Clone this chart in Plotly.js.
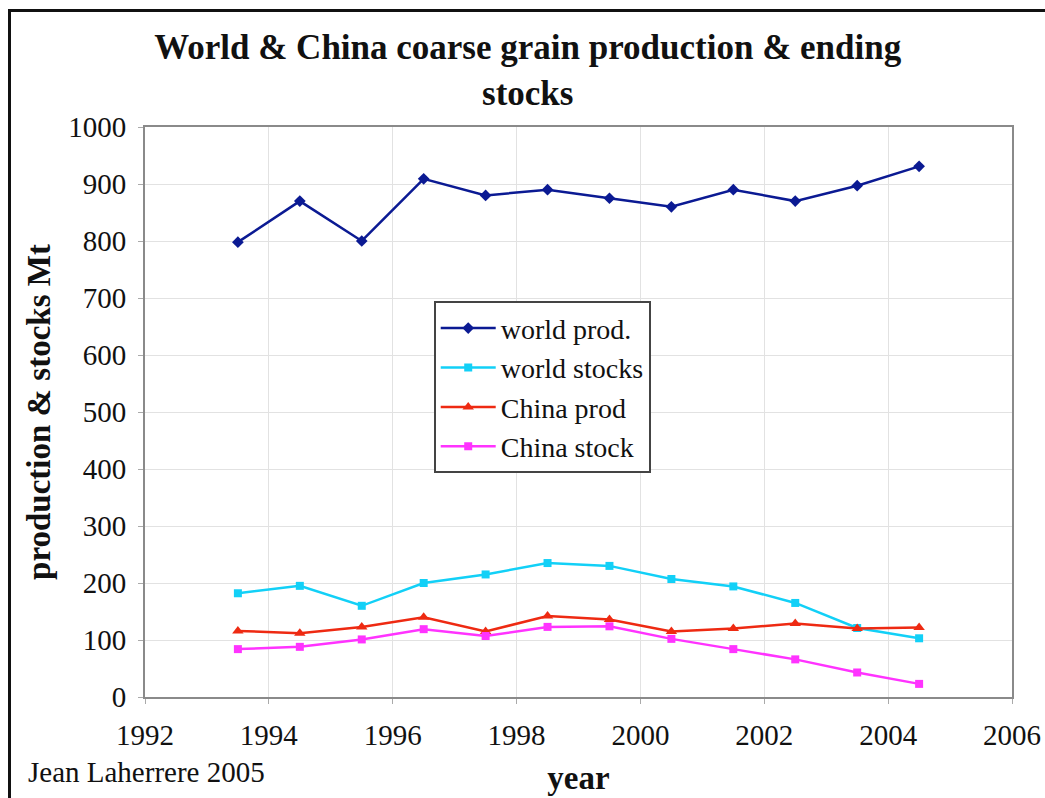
<!DOCTYPE html>
<html>
<head>
<meta charset="utf-8">
<script src="https://cdn.plot.ly/plotly-3.0.1.min.js"></script>
<style>
  html, body { margin: 0; padding: 0; overflow: hidden; background: #fff; }
  #chart { position: absolute; left: 0; top: 0; width: 1045px; height: 798px; }
  #frame { position: absolute; left: 8px; top: 9px; width: 1200px; height: 1000px;
           border: 3px solid #111; pointer-events: none; box-sizing: border-box; }
</style>
</head>
<body>
<div id="chart"></div>
<div id="frame"></div>
<script>
const years = [1993.5, 1994.5, 1995.5, 1996.5, 1997.5, 1998.5, 1999.5, 2000.5, 2001.5, 2002.5, 2003.5, 2004.5];
const worldProd   = [798, 870, 800, 909, 880, 890, 875, 860, 890, 870, 897, 931];
const worldStocks = [182, 195, 160, 200, 215, 235, 230, 207, 194, 165, 121, 103];
const chinaProd   = [116, 112, 123, 140, 115, 142, 136, 115, 120, 129, 120, 122];
const chinaStock  = [84, 88, 101, 119, 107, 123, 124, 102, 84, 66, 43, 23];
const seriesNames = ["world prod.", "world stocks", "China prod", "China stock"];

const serif = "Liberation Serif, Times New Roman, serif";

function tr(name, y, color, symbol, size) {
  return {
    x: years, y: y, name: name, type: "scatter", mode: "lines+markers",
    line: { color: color, width: 2.5 },
    marker: { color: color, symbol: symbol, size: size }
  };
}

const data = [
  tr(seriesNames[0], worldProd, "#0b1a93", "diamond", 9),
  tr(seriesNames[1], worldStocks, "#12d0f7", "square", 8),
  tr(seriesNames[2], chinaProd, "#ee2a12", "triangle-up", 10),
  tr(seriesNames[3], chinaStock, "#ff33ff", "square", 8)
];

const layout = {
  width: 1045, height: 798,
  margin: { l: 145, r: 33, t: 127, b: 101 },
  paper_bgcolor: "#fff", plot_bgcolor: "#fff",
  font: { family: serif, color: "#111", size: 29 },
  title: {
    text: "<b>World & China coarse grain production & ending<br>stocks</b>",
    font: { family: serif, size: 35, color: "#111" },
    x: 0.505, xref: "container", xanchor: "center",
    y: 0.926, yref: "container", yanchor: "top"
  },
  xaxis: {
    range: [1992, 2006], tick0: 1992, dtick: 2,
    showgrid: true, gridcolor: "#e2e2e2", gridwidth: 1,
    showline: true, linecolor: "#8a8a8a", linewidth: 2, mirror: true,
    ticks: "outside", ticklen: 5, tickcolor: "#aaa",
    ticklabelstandoff: 6,
    tickfont: { family: serif, size: 29, color: "#111" },
    zeroline: false,
    title: { text: "<b>year</b>", font: { family: serif, size: 33, color: "#111" }, standoff: 16 }
  },
  yaxis: {
    range: [0, 1000], dtick: 100,
    showgrid: true, gridcolor: "#e2e2e2", gridwidth: 1,
    showline: true, linecolor: "#8a8a8a", linewidth: 2, mirror: true,
    ticks: "outside", ticklen: 5, tickcolor: "#aaa",
    ticklabelstandoff: 6,
    tickfont: { family: serif, size: 29, color: "#111" },
    zeroline: false,
    title: { text: "<b>production & stocks Mt</b>", font: { family: serif, size: 33, color: "#111" }, standoff: 8 }
  },
  legend: {
    x: 0.333, y: 0.694, xanchor: "left", yanchor: "top",
    bgcolor: "#fff", bordercolor: "#444", borderwidth: 2,
    font: { family: serif, size: 28, color: "#111" },
    itemwidth: 55,
    tracegroupgap: 0
  },
  annotations: [{
    text: "Jean Laherrere 2005", showarrow: false,
    xref: "paper", yref: "paper", x: -0.137, y: -0.131,
    xanchor: "left", yanchor: "middle",
    font: { family: serif, size: 29, color: "#111" }
  }]
};

Plotly.newPlot("chart", data, layout, { displayModeBar: false, staticPlot: true });
</script>
</body>
</html>
